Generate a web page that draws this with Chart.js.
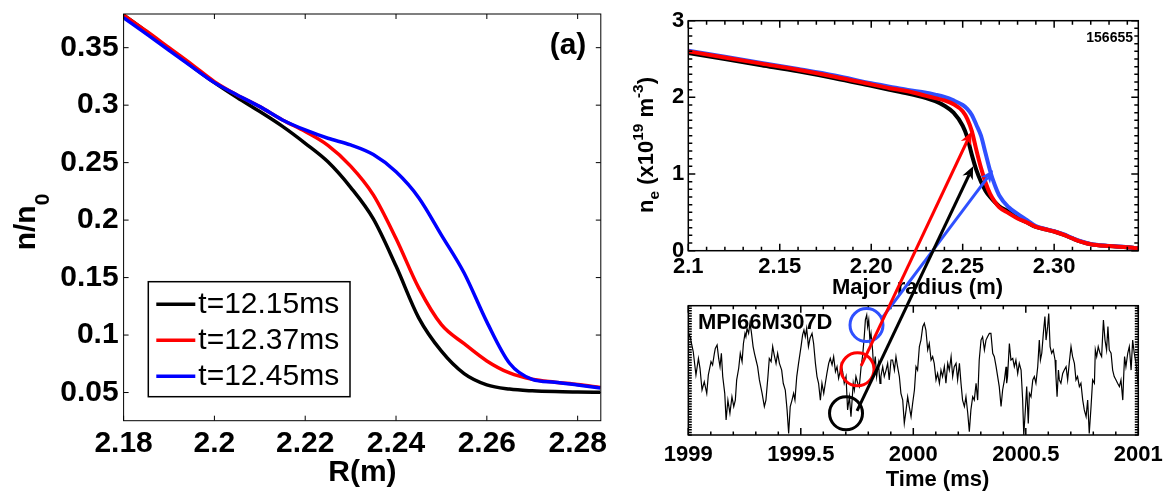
<!DOCTYPE html>
<html lang="en">
<head>
<meta charset="UTF-8">
<title>Edge density profiles and MPI66M307D</title>
<script src="https://cdn.jsdelivr.net/npm/chart.js"></script>
<style>
  body { margin: 0; background: #fff; }
  #wrap { position: relative; width: 1171px; height: 494px; overflow: hidden; background: #fff; }
  #wrap canvas { position: absolute; }
  #cL { left: 0; top: 0; }
  #cTop { left: 630px; top: 0; }
  #cBot { left: 630px; top: 296px; }
  #over { left: 0; top: 0; pointer-events: none; }
</style>
</head>
<body>
<div id="wrap">
  <canvas id="cL" width="620" height="494"></canvas>
  <canvas id="cTop" width="541" height="300"></canvas>
  <canvas id="cBot" width="541" height="198"></canvas>
  <canvas id="over" width="1171" height="494"></canvas>
</div>
<script>
const FONT = "'Liberation Sans', Arial, Helvetica, sans-serif";
Chart.defaults.font.family = FONT;
Chart.defaults.color = '#000';

// ---- (a) simulated n/n0 profiles ----
const rProf = [2.180, 2.185, 2.190, 2.195, 2.200, 2.205, 2.210, 2.215, 2.220, 2.225, 2.230,
               2.235, 2.240, 2.245, 2.250, 2.255, 2.260, 2.265, 2.270, 2.275, 2.280, 2.285];
const nBlack = [0.3784, 0.3640, 0.3490, 0.3340, 0.3196, 0.3066, 0.2944, 0.2815, 0.2668, 0.2507, 0.2285,
                0.2010, 0.1600, 0.1150, 0.0860, 0.0665, 0.0567, 0.0530, 0.0515, 0.0508, 0.0505, 0.0503];
const nRed = [0.3784, 0.3645, 0.3500, 0.3355, 0.3205, 0.3089, 0.2987, 0.2871, 0.2770, 0.2650, 0.2470,
              0.2220, 0.1840, 0.1410, 0.1090, 0.0925, 0.0775, 0.0670, 0.0615, 0.0590, 0.0570, 0.0545];
const nBlue = [0.3760, 0.3620, 0.3478, 0.3335, 0.3196, 0.3089, 0.2987, 0.2871, 0.2784, 0.2712, 0.2654,
               0.2570, 0.2420, 0.2195, 0.1870, 0.1540, 0.1115, 0.0755, 0.0615, 0.0590, 0.0565, 0.0540];
const profLabels = ['t=12.15ms', 't=12.37ms', 't=12.45ms'];
const profX = [2.18, 2.2, 2.22, 2.24, 2.26, 2.28];
const profXLabels = ['2.18', '2.2', '2.22', '2.24', '2.26', '2.28'];
const profY = [0.05, 0.1, 0.15, 0.2, 0.25, 0.3, 0.35];
const profYLabels = ['0.05', '0.1', '0.15', '0.2', '0.25', '0.3', '0.35'];

// ---- measured ne profiles, shot 156655 ----
const rEdge = [2.10, 2.12, 2.14, 2.16, 2.18, 2.20, 2.21, 2.22, 2.23, 2.235, 2.24, 2.245, 2.25, 2.2525,
               2.255, 2.2575, 2.26, 2.2625, 2.265, 2.2675, 2.27, 2.275, 2.28, 2.285, 2.29, 2.295, 2.30,
               2.305, 2.31, 2.315, 2.32, 2.33, 2.34, 2.346];
const neBlack = [2.58, 2.50, 2.42, 2.34, 2.25, 2.15, 2.10, 2.05, 1.99, 1.95, 1.89, 1.80, 1.63, 1.48,
                 1.25, 1.05, 0.90, 0.78, 0.70, 0.635, 0.58, 0.51, 0.43, 0.37, 0.31, 0.28, 0.25,
                 0.21, 0.16, 0.115, 0.085, 0.061, 0.045, 0.031];
const neRed = [2.60, 2.52, 2.44, 2.36, 2.27, 2.17, 2.12, 2.08, 2.02, 1.99, 1.96, 1.91, 1.82, 1.72,
               1.56, 1.31, 1.08, 0.89, 0.74, 0.64, 0.565, 0.49, 0.42, 0.37, 0.31, 0.28, 0.25,
               0.21, 0.16, 0.115, 0.085, 0.061, 0.045, 0.031];
const neBlue = [2.61, 2.53, 2.45, 2.37, 2.285, 2.185, 2.14, 2.095, 2.06, 2.035, 2.005, 1.96, 1.90, 1.85,
                1.77, 1.64, 1.50, 1.27, 1.04, 0.86, 0.72, 0.57, 0.48, 0.40, 0.32, 0.285, 0.255,
                0.215, 0.165, 0.12, 0.088, 0.063, 0.046, 0.032];
const edgeX = [2.1, 2.15, 2.2, 2.25, 2.3];
const edgeXLabels = ['2.1', '2.15', '2.20', '2.25', '2.30'];
const edgeY = [0, 1, 2, 3];
const edgeYLabels = ['0', '1', '2', '3'];

// ---- MPI66M307D trace ----
const sigT = [1999.000, 1999.008, 1999.022, 1999.034, 1999.045, 1999.052, 1999.061, 1999.071, 1999.082, 1999.089,
  1999.101, 1999.108, 1999.116, 1999.120, 1999.128, 1999.135, 1999.141, 1999.147, 1999.153, 1999.162,
  1999.168, 1999.176, 1999.185, 1999.194, 1999.202, 1999.209, 1999.215, 1999.224, 1999.231, 1999.239,
  1999.245, 1999.252, 1999.256, 1999.261, 1999.268, 1999.274, 1999.280, 1999.288, 1999.294, 1999.301,
  1999.308, 1999.316, 1999.328, 1999.338, 1999.345, 1999.354, 1999.360, 1999.368, 1999.375, 1999.382,
  1999.390, 1999.397, 1999.405, 1999.415, 1999.422, 1999.431, 1999.439, 1999.446, 1999.453, 1999.461,
  1999.468, 1999.474, 1999.482, 1999.490, 1999.501, 1999.508, 1999.514, 1999.520, 1999.526, 1999.534,
  1999.541, 1999.550, 1999.557, 1999.565, 1999.572, 1999.579, 1999.587, 1999.594, 1999.602, 1999.609,
  1999.616, 1999.624, 1999.631, 1999.639, 1999.646, 1999.654, 1999.661, 1999.668, 1999.676,
  1999.679, 1999.686, 1999.693, 1999.701, 1999.708, 1999.716, 1999.723, 1999.728, 1999.733, 1999.738,
  1999.745, 1999.753, 1999.760, 1999.768, 1999.775, 1999.782, 1999.787, 1999.793, 1999.797, 1999.802,
  1999.807, 1999.812, 1999.819, 1999.824, 1999.831, 1999.837, 1999.845, 1999.852, 1999.856, 1999.864,
  1999.871, 1999.879, 1999.886, 1999.893, 1999.901, 1999.908, 1999.916, 1999.923, 1999.930, 1999.938,
  1999.945, 1999.953, 1999.960, 1999.968, 1999.975, 1999.982, 1999.990, 1999.997, 2000.005, 2000.012,
  2000.019, 2000.027, 2000.034, 2000.042, 2000.049, 2000.056, 2000.064, 2000.071, 2000.079, 2000.086,
  2000.093, 2000.101, 2000.108, 2000.116, 2000.123, 2000.130, 2000.138, 2000.145, 2000.153, 2000.160,
  2000.168, 2000.175, 2000.182, 2000.190, 2000.197, 2000.205, 2000.212, 2000.219, 2000.227, 2000.234,
  2000.242, 2000.249, 2000.256, 2000.264, 2000.271, 2000.279, 2000.286, 2000.293, 2000.301, 2000.308,
  2000.316, 2000.323, 2000.330, 2000.338,
  2000.345, 2000.353, 2000.360, 2000.368, 2000.375, 2000.382, 2000.390, 2000.397, 2000.405, 2000.412,
  2000.415, 2000.419, 2000.427, 2000.434, 2000.442, 2000.449, 2000.456, 2000.464, 2000.471, 2000.479,
  2000.486, 2000.491, 2000.498, 2000.504, 2000.511, 2000.516, 2000.523, 2000.531, 2000.538, 2000.545,
  2000.553, 2000.560, 2000.565, 2000.571, 2000.578, 2000.585, 2000.590, 2000.597, 2000.602, 2000.608,
  2000.615, 2000.622, 2000.630, 2000.634, 2000.639, 2000.645, 2000.649, 2000.656, 2000.664, 2000.671,
  2000.679, 2000.686, 2000.693, 2000.701, 2000.708, 2000.716, 2000.723, 2000.730, 2000.738, 2000.745,
  2000.753, 2000.760, 2000.768, 2000.775, 2000.782, 2000.790, 2000.797, 2000.805, 2000.809, 2000.815,
  2000.822, 2000.830, 2000.837, 2000.845, 2000.852, 2000.859, 2000.865, 2000.871, 2000.879, 2000.886,
  2000.893, 2000.901, 2000.908, 2000.916, 2000.923, 2000.931, 2000.935, 2000.939, 2000.945, 2000.953,
  2000.960, 2000.968, 2000.975, 2000.982, 2000.990, 2000.997, 2001.000];
const sigV = [3.95, 3.80, 3.22, 2.32, 2.96, 2.58, 1.74, 2.06, 1.61, 2.32,
  2.84, 2.71, 3.16, 3.35, 3.48, 2.96, 2.64, 3.16, 2.26, 1.61,
  0.58, 1.35, 0.84, 1.48, 1.10, 1.35, 2.13, 2.58, 3.16, 2.84,
  3.54, 3.93, 3.80, 4.12, 3.93, 4.32, 4.00, 3.42, 3.16, 2.90,
  2.64, 2.13, 1.61, 1.10, 1.35, 2.26, 2.96, 2.84, 3.42, 3.09,
  2.77, 3.16, 2.77, 2.51, 2.00, 1.74, 0.97, 0.06, 1.10, 1.35,
  1.61, 1.35, 2.26, 2.77, 3.42, 3.87, 4.06, 3.80, 4.12, 3.42,
  3.74, 3.93, 3.54, 2.77, 2.26, 2.00, 1.35, 2.00, 1.61, 2.00,
  2.38, 2.77, 2.96, 2.71, 3.03, 2.45, 2.64, 2.19, 2.51,
  2.71, 2.45, 2.00, 2.26, 0.97, 1.48, 0.71, 1.35, 2.00, 1.74,
  2.26, 2.00, 1.87, 2.64, 3.09, 3.80, 4.45, 4.64, 4.19, 4.45,
  3.67, 3.93, 3.29, 2.51, 3.03, 2.26, 2.77, 2.00, 2.26, 2.64,
  2.26, 2.51, 2.77, 2.13, 2.90, 2.90, 2.51, 3.03, 2.64, 2.26,
  1.61, 1.35, 0.45, 0.97, 1.48, 1.10, 0.71, 1.22, 1.74, 2.64,
  2.51, 3.42, 3.67, 4.19, 4.32, 4.06, 3.29, 3.54, 2.90, 3.03,
  2.77, 2.13, 2.38, 2.00, 2.51, 2.26, 2.64, 2.00, 2.77, 2.51,
  3.03, 2.26, 2.64, 2.77, 2.13, 2.77, 2.00, 1.35, 1.10, 1.48,
  0.84, 0.13, 0.97, 1.48, 1.35, 2.00, 1.35, 2.90, 3.67, 3.80,
  3.29, 3.67, 3.80, 3.93,
  3.93, 3.16, 3.03, 2.64, 2.26, 1.87, 1.10, 1.74, 2.13, 2.64,
  2.00, 2.26, 3.54, 2.90, 2.96, 2.64, 2.90, 2.38, 2.77, 2.51,
  1.35, 0.00, 0.97, 1.87, 0.45, 1.61, 1.48, 2.13, 2.26, 2.00,
  2.64, 3.67, 2.90, 3.16, 3.93, 4.58, 3.67, 4.19, 4.70, 3.42,
  3.16, 3.29, 2.90, 2.26, 1.48, 2.51, 2.13, 2.00, 2.38, 2.51,
  2.64, 2.13, 2.77, 3.42, 3.03, 2.77, 2.13, 2.26, 1.87, 2.00,
  1.35, 0.97, 0.71, 1.35, 0.06, 1.10, 2.13, 2.00, 3.29, 3.03,
  3.42, 3.16, 3.03, 4.45, 3.67, 3.29, 4.19, 3.29, 3.16, 2.51,
  2.26, 2.13, 2.00, 1.87, 2.13, 1.35, 2.26, 3.03, 2.64, 3.16,
  3.42, 2.51, 3.67, 3.16, 2.77, 2.13, 1.93];
const timeX = [1999, 1999.5, 2000, 2000.5, 2001];
const timeXLabels = ['1999', '1999.5', '2000', '2000.5', '2001'];
const sigY = [0, 1, 2, 3, 4, 5];

// circled samples and the arrows to the profile (black, red, blue)
const markColors = ['#000000', '#ff0000', '#2f50ff'];
const markT = [1999.701, 1999.752, 1999.792];
const markV = [0.84, 2.54, 4.25];
const arrowFromT = [1999.750, 1999.768, 1999.861];
const arrowFromV = [0.93, 2.67, 4.52];
const arrowToR = [2.2557, 2.2548, 2.2666];
const arrowToNe = [1.10, 1.55, 1.05];

function pts(xs, ys) { return xs.map((x, i) => ({ x: x, y: ys[i] })); }

function steps(min, max, step) {
  const out = [];
  for (let k = Math.ceil(min / step - 1e-6); k * step <= max + 1e-9; k++) out.push(k * step);
  return out;
}

function linAxis(min, max, ticks, labels, size, pad, fontSize) {
  return {
    type: 'linear', min: min, max: max,
    grid: { display: false, drawTicks: false },
    border: { display: false },
    ticks: {
      display: labels.length > 0,
      autoSkip: false, maxRotation: 0, minRotation: 0,
      padding: pad,
      font: { size: fontSize, weight: 'bold' },
      callback: (v, i) => labels[i]
    },
    afterBuildTicks: s => { s.ticks = ticks.map(v => ({ value: v })); },
    afterFit: s => {
      if (s.isHorizontal()) s.height = size; else s.width = size;
      s.paddingLeft = s.paddingRight = s.paddingTop = s.paddingBottom = 0;
    }
  };
}

function drawRich(ctx, it) {
  const size = it.size, weight = it.weight || 'bold';
  const parts = typeof it.text === 'string' ? [[it.text, '']] : it.text;
  ctx.save();
  ctx.translate(it.x, it.y);
  if (it.rotate) ctx.rotate(it.rotate);
  ctx.fillStyle = '#000';
  ctx.textAlign = 'left';
  ctx.textBaseline = it.baseline || 'middle';
  const runs = parts.map(([s, k]) => {
    const fs = k ? size * 0.7 : size;
    ctx.font = weight + ' ' + fs + 'px ' + FONT;
    return { s: s, k: k, fs: fs, w: ctx.measureText(s).width };
  });
  const total = runs.reduce((a, r) => a + r.w, 0);
  let cx = it.align === 'left' ? 0 : it.align === 'right' ? -total : -total / 2;
  runs.forEach(r => {
    ctx.font = weight + ' ' + r.fs + 'px ' + FONT;
    const dy = r.k === 'sub' ? size * (it.subShift || 0.3) : r.k === 'sup' ? -size * 0.45 : 0;
    ctx.fillText(r.s, cx, dy);
    cx += r.w;
  });
  ctx.restore();
}

// box with inward ticks on all four sides
const framePlugin = {
  id: 'frame',
  afterDatasetsDraw(chart, args, o) {
    if (!o.width) return;
    const { ctx, chartArea: a } = chart;
    const x = chart.scales.x, y = chart.scales.y;
    ctx.save();
    ctx.strokeStyle = '#000';
    ctx.lineWidth = o.width;
    ctx.strokeRect(a.left, a.top, a.right - a.left, a.bottom - a.top);
    ctx.beginPath();
    const xt = (vals, len) => vals.forEach(v => {
      const p = x.getPixelForValue(v);
      ctx.moveTo(p, a.bottom); ctx.lineTo(p, a.bottom - len);
      ctx.moveTo(p, a.top); ctx.lineTo(p, a.top + len);
    });
    const yt = (vals, len) => vals.forEach(v => {
      const p = y.getPixelForValue(v);
      ctx.moveTo(a.left, p); ctx.lineTo(a.left + len, p);
      ctx.moveTo(a.right, p); ctx.lineTo(a.right - len, p);
    });
    xt(x.ticks.map(t => t.value), o.major);
    yt(y.ticks.map(t => t.value), o.major);
    if (o.xMinor) xt(steps(x.min, x.max, o.xMinor), o.minor);
    if (o.yMinor) yt(steps(y.min, y.max, o.yMinor), o.minor);
    ctx.stroke();
    ctx.restore();
  }
};

const textPlugin = {
  id: 'texts',
  afterDraw(chart, args, o) {
    (o.items || []).forEach(it => drawRich(chart.ctx, it));
  }
};

const boxLegend = {
  id: 'boxLegend',
  afterDraw(chart, args, o) {
    if (!o.box) return;
    const ctx = chart.ctx, b = o.box;
    ctx.save();
    ctx.fillStyle = '#fff';
    ctx.fillRect(b.x, b.y, b.w, b.h);
    ctx.strokeStyle = '#000';
    ctx.lineWidth = 1.5;
    ctx.strokeRect(b.x, b.y, b.w, b.h);
    chart.data.datasets.forEach((ds, i) => {
      const yy = b.y + b.row0 + i * b.gap;
      ctx.strokeStyle = ds.borderColor;
      ctx.lineWidth = ds.borderWidth;
      ctx.beginPath();
      ctx.moveTo(b.x + 8, yy);
      ctx.lineTo(b.x + 47, yy);
      ctx.stroke();
      ctx.fillStyle = '#000';
      ctx.font = o.size + 'px ' + FONT;
      ctx.textAlign = 'left';
      ctx.textBaseline = 'middle';
      ctx.fillText(ds.label, b.x + 50, yy);
    });
    ctx.restore();
  }
};

Chart.register(framePlugin, textPlugin, boxLegend);

const common = {
  responsive: false,
  animation: false,
  devicePixelRatio: 1,
  events: []
};

const chartL = new Chart(document.getElementById('cL'), {
  type: 'line',
  data: {
    datasets: [
      { label: profLabels[0], data: pts(rProf, nBlack), borderColor: '#000000', borderWidth: 3.5, order: 2 },
      { label: profLabels[1], data: pts(rProf, nRed), borderColor: '#ff0000', borderWidth: 3.5, order: 1 },
      { label: profLabels[2], data: pts(rProf, nBlue), borderColor: '#0000ff', borderWidth: 3.5, order: 0 }
    ]
  },
  options: Object.assign({}, common, {
    layout: { padding: { left: 0, top: 14, right: 19.2, bottom: 0 } },
    elements: { point: { radius: 0 }, line: { cubicInterpolationMode: 'monotone', fill: false } },
    scales: {
      x: linAxis(2.18, 2.2851, profX, profXLabels, 73.3, 5, 30),
      y: linAxis(0.0255, 0.3793, profY, profYLabels, 123.6, 5, 30)
    },
    plugins: {
      legend: { display: false },
      tooltip: { enabled: false },
      frame: { width: 1, major: 5 },
      boxLegend: { size: 30, box: { x: 148.3, y: 281.7, w: 201.7, h: 115, row0: 22.6, gap: 36 } },
      texts: { items: [
        { text: 'R(m)', x: 362.4, y: 472.5, size: 30 },
        { text: [['n/n', ''], ['0', 'sub']], x: 35, y: 222, size: 30, rotate: -Math.PI / 2, baseline: 'alphabetic', subShift: 0.45 },
        { text: '(a)', x: 568, y: 46, size: 30 }
      ] }
    }
  })
});

const chartTop = new Chart(document.getElementById('cTop'), {
  type: 'line',
  data: {
    datasets: [
      { label: 'black', data: pts(rEdge, neBlack), borderColor: '#000000', borderWidth: 4, order: 2 },
      { label: 'red', data: pts(rEdge, neRed), borderColor: '#ff0000', borderWidth: 4, order: 0 },
      { label: 'blue', data: pts(rEdge, neBlue), borderColor: '#2f50ff', borderWidth: 4, order: 1 }
    ]
  },
  options: Object.assign({}, common, {
    layout: { padding: { left: 0, top: 20.7, right: 32.7, bottom: 0 } },
    elements: { point: { radius: 0 }, line: { cubicInterpolationMode: 'monotone', fill: false } },
    scales: {
      x: linAxis(2.1, 2.346, edgeX, edgeXLabels, 49.3, 3, 22),
      y: linAxis(0, 3, edgeY, edgeYLabels, 58.3, 4, 22)
    },
    plugins: {
      legend: { display: false },
      tooltip: { enabled: false },
      frame: { width: 1.5, major: 7, minor: 4, xMinor: 0.01, yMinor: 0.1 },
      texts: { items: [
        { text: 'Major radius (m)', x: 287.5, y: 288.3, size: 22 },
        { text: [['n', ''], ['e', 'sub'], [' (x10', ''], ['19', 'sup'], [' m', ''], ['-3', 'sup'], [')', '']],
          x: 23, y: 145, size: 22, rotate: -Math.PI / 2, baseline: 'alphabetic', subShift: 0.25 },
        { text: '156655', x: 503, y: 38, size: 14, align: 'right' }
      ] }
    }
  })
});

const chartBot = new Chart(document.getElementById('cBot'), {
  type: 'line',
  data: {
    datasets: [
      { label: 'MPI66M307D', data: pts(sigT, sigV), borderColor: '#000000', borderWidth: 1.2, tension: 0 }
    ]
  },
  options: Object.assign({}, common, {
    layout: { padding: { left: 0, top: 9.7, right: 32.7, bottom: 0 } },
    elements: { point: { radius: 0 } },
    scales: {
      x: linAxis(1999, 2001, timeX, timeXLabels, 59, 7, 22),
      y: linAxis(0, 5, sigY, [], 58.3, 0, 22)
    },
    plugins: {
      legend: { display: false },
      tooltip: { enabled: false },
      frame: { width: 1.5, major: 7, minor: 3.5, xMinor: 0.1, yMinor: 0.1 },
      texts: { items: [
        { text: 'Time (ms)', x: 307.5, y: 184, size: 22 },
        { text: 'MPI66M307D', x: 68, y: 27.3, size: 22, align: 'left' }
      ] }
    }
  })
});

function drawArrow(ctx, x0, y0, x1, y1, color) {
  const ang = Math.atan2(y1 - y0, x1 - x0);
  const head = 14, back = 9, spread = 0.42;
  ctx.strokeStyle = color;
  ctx.fillStyle = color;
  ctx.lineWidth = 3;
  ctx.beginPath();
  ctx.moveTo(x0, y0);
  ctx.lineTo(x1 - back * Math.cos(ang), y1 - back * Math.sin(ang));
  ctx.stroke();
  ctx.beginPath();
  ctx.moveTo(x1, y1);
  ctx.lineTo(x1 - head * Math.cos(ang - spread), y1 - head * Math.sin(ang - spread));
  ctx.lineTo(x1 - back * Math.cos(ang), y1 - back * Math.sin(ang));
  ctx.lineTo(x1 - head * Math.cos(ang + spread), y1 - head * Math.sin(ang + spread));
  ctx.closePath();
  ctx.fill();
}

// circles on the trace and arrows up to the profile, placed through both charts' scales
function drawOverlay() {
  const ctx = document.getElementById('over').getContext('2d');
  const at = (chart, x, y) => [
    chart.canvas.offsetLeft + chart.scales.x.getPixelForValue(x),
    chart.canvas.offsetTop + chart.scales.y.getPixelForValue(y)
  ];
  ctx.lineWidth = 3;
  markT.forEach((t, i) => {
    const [cx, cy] = at(chartBot, t, markV[i]);
    ctx.strokeStyle = markColors[i];
    ctx.beginPath();
    ctx.arc(cx, cy, 16.5, 0, 2 * Math.PI);
    ctx.stroke();
  });
  [2, 0, 1].forEach(i => {
    const [x0, y0] = at(chartBot, arrowFromT[i], arrowFromV[i]);
    const [x1, y1] = at(chartTop, arrowToR[i], arrowToNe[i]);
    drawArrow(ctx, x0, y0, x1, y1, markColors[i]);
  });
}
drawOverlay();
</script>
</body>
</html>
